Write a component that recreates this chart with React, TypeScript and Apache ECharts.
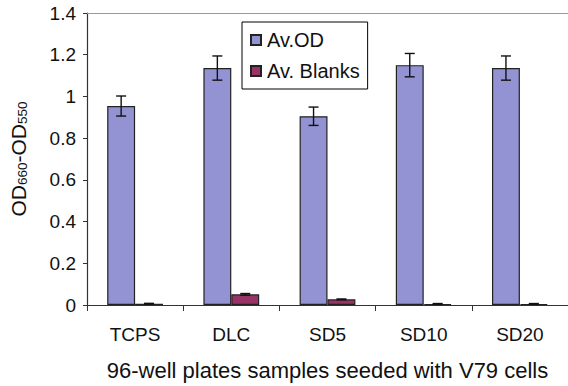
import React, { useEffect, useRef } from "react";
import * as echarts from "echarts";

const categories = ["TCPS", "DLC", "SD5", "SD10", "SD20"];
const avOD = [0.954, 1.136, 0.905, 1.15, 1.136];
const avODErr = [0.048, 0.058, 0.044, 0.056, 0.058];
const avBlanks = [0.006, 0.051, 0.027, 0.005, 0.005];
const avBlanksErr = [0.002, 0.004, 0.002, 0.002, 0.002];
const yTicks = [0, 0.2, 0.4, 0.6, 0.8, 1, 1.2, 1.4];

const FONT = "'Liberation Sans', Arial, sans-serif";

export default function App() {
  const ref = useRef<HTMLDivElement>(null);
  useEffect(() => {
    if (!ref.current) return;
    const chart = echarts.init(ref.current, undefined, { renderer: "svg" });
    const errData: number[][] = [];
    avOD.forEach((v, i) => errData.push([i, v, avODErr[i], 0]));
    avBlanks.forEach((v, i) => errData.push([i, v, avBlanksErr[i], 1]));
    const catGap = 0.42;
    chart.setOption({
      animation: false,
      textStyle: { fontFamily: FONT },
      grid: { left: 80, top: 13, width: 492.5, height: 295, containLabel: false },
      legend: {
        data: ["Av.OD", "Av. Blanks"],
        orient: "vertical",
        left: 242,
        top: 22,
        width: 125,
        padding: [8, 8, 8, 8],
        itemGap: 11,
        itemWidth: 10,
        itemHeight: 10,
        backgroundColor: "#fff",
        borderColor: "#000",
        borderWidth: 1,
        icon: "rect",
        textStyle: { fontSize: 20, color: "#111", fontFamily: FONT, padding: [0, 0, 0, 1] },
      },
      xAxis: [
        {
          type: "category",
          data: categories,
          position: "bottom",
          axisLine: { lineStyle: { color: "#333", width: 1.2 } },
          axisTick: { show: true, length: 6, lineStyle: { color: "#333" } },
          axisLabel: { fontSize: 19, color: "#111", margin: 20, fontFamily: FONT },
          name: "96-well plates samples seeded with V79 cells",
          nameLocation: "middle",
          nameGap: 54,
          nameTextStyle: { fontSize: 22, color: "#111", fontFamily: FONT },
        },
        {
          type: "category",
          data: categories,
          position: "top",
          axisLine: { lineStyle: { color: "#999", width: 1 } },
          axisTick: { show: false },
          axisLabel: { show: false },
        },
      ],
      yAxis: {
        type: "value",
        min: yTicks[0],
        max: yTicks[yTicks.length - 1],
        interval: 0.2,
        axisLine: { show: true, lineStyle: { color: "#333", width: 1.2 } },
        axisTick: { show: true, length: 4, lineStyle: { color: "#333" } },
        splitLine: { show: false },
        axisLabel: {
          fontSize: 19,
          color: "#111",
          margin: 11,
          fontFamily: FONT,
          formatter: (v: number) => String(Math.round(v * 10) / 10),
        },
        name: "{b|OD}{s|660}{b|-OD}{s|550}",
        nameLocation: "middle",
        nameGap: 58,
        nameRotate: 90,
        nameTextStyle: {
          color: "#111",
          fontFamily: FONT,
          rich: {
            b: { fontSize: 21, color: "#111", fontFamily: FONT, verticalAlign: "bottom", lineHeight: 22 },
            s: { fontSize: 13.5, color: "#111", fontFamily: FONT, verticalAlign: "bottom", lineHeight: 18 },
          },
        },
      },
      series: [
        {
          name: "Av.OD",
          type: "bar",
          data: avOD,
          barGap: "0%",
          barCategoryGap: "42%",
          itemStyle: { color: "#9393d3", borderColor: "#222", borderWidth: 1.2 },
        },
        {
          name: "Av. Blanks",
          type: "bar",
          data: avBlanks,
          barGap: "0%",
          barCategoryGap: "42%",
          itemStyle: { color: "#993366", borderColor: "#222", borderWidth: 1.2 },
        },
        {
          name: "err",
          type: "custom",
          data: errData,
          z: 10,
          renderItem: (params: any, api: any) => {
            const ci = api.value(0);
            const v = api.value(1);
            const e = api.value(2);
            const s = api.value(3);
            const band = api.size([1, 0])[0];
            const bw = (band * (1 - catGap)) / 2;
            const c = api.coord([ci, v]);
            const x = c[0] + (s === 0 ? -bw / 2 : bw / 2);
            const top = api.coord([ci, v + e])[1];
            const bot = api.coord([ci, Math.max(0, v - e)])[1];
            const hw = 5;
            const st = { stroke: "#111", lineWidth: 1.4 };
            return {
              type: "group",
              children: [
                { type: "line", shape: { x1: x, y1: top, x2: x, y2: bot }, style: st },
                { type: "line", shape: { x1: x - hw, y1: top, x2: x + hw, y2: top }, style: st },
                { type: "line", shape: { x1: x - hw, y1: bot, x2: x + hw, y2: bot }, style: st },
              ],
            };
          },
        },
      ],
    });
    return () => chart.dispose();
  }, []);
  return <div ref={ref} style={{ width: 568, height: 386, position: "absolute", left: 0, top: 0 }} />;
}
